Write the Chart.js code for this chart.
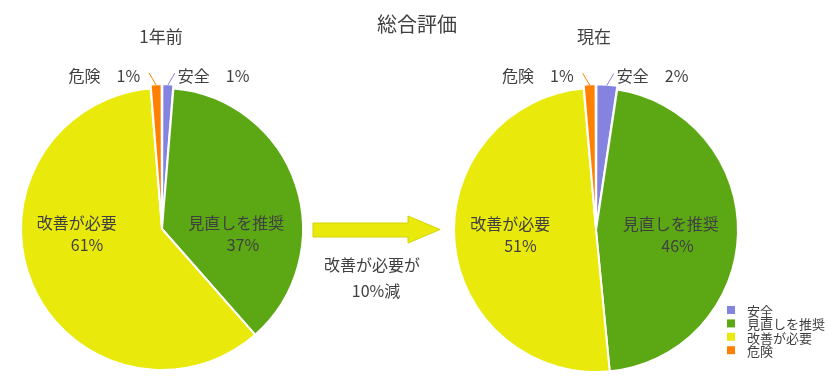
<!DOCTYPE html>
<html><head><meta charset="utf-8">
<script src="https://cdn.jsdelivr.net/npm/chart.js@4"></script>
<style>
html,body{margin:0;padding:0;background:#fff;}
#wrap{position:relative;width:840px;height:384px;overflow:hidden;font-family:"Noto Sans CJK JP",sans-serif;color:#404040;}
.t{position:absolute;white-space:nowrap;transform:translate(-50%,-50%);line-height:1;}
canvas{position:absolute;top:0;}
svg{position:absolute;left:0;top:0;}
</style></head>
<body><div id="wrap">
<canvas id="c1" width="324" height="384" style="left:0;width:324px;height:384px"></canvas>
<canvas id="c2" width="420" height="384" style="left:420px;width:420px;height:384px"></canvas>
<svg width="840" height="384"><polygon points="313,223 408,223 408,216 440,229.5 408,243 408,237 313,237" fill="#E9E90B" stroke="#D4D400" stroke-width="1"/></svg>
<div class="t" style="left:417px;top:24px;font-size:20px">総合評価</div>
<div class="t" style="left:161px;top:35px;font-size:17px">1年前</div>
<div class="t" style="left:594px;top:35px;font-size:17px">現在</div>
<div class="t" style="left:372px;top:264px;font-size:16px">改善が必要が</div>
<div class="t" style="left:376px;top:290px;font-size:16px">10%減</div>
</div>
<script>
const categories = ['安全', '見直しを推奨', '改善が必要', '危険'];
const beforeValues = [1.3, 37.4, 60.5, 1.3];
const nowValues = [2.4, 46.4, 50.5, 1.4];

const sliceColors = ['#8484E0', '#5CA814', '#E9E90B', '#FF8000'];
const sliceOffsets = [8, 0, 0, 8];
const FONT = '"Noto Sans CJK JP", sans-serif';
const TEXT = '#404040';

const labelPlugin = {
  id: 'sliceLabels',
  afterDatasetsDraw(chart) {
    const ctx = chart.ctx;
    const ds = chart.data.datasets[0];
    const meta = chart.getDatasetMeta(0);
    ctx.save();
    ctx.font = '16px ' + FONT;
    ctx.fillStyle = TEXT;
    ctx.textBaseline = 'middle';
    meta.data.forEach((arc, i) => {
      const p = arc.getProps(['x', 'y', 'startAngle', 'endAngle', 'outerRadius'], true);
      const mid = (p.startAngle + p.endAngle) / 2;
      const v = ds.data[i];
      const pct = Math.round(v) + '%';
      const name = chart.data.labels[i];
      const s = Math.cos(mid) >= 0 ? 1 : -1;
      if (v < 5) {
        const r = p.outerRadius + (ds.offset[i] || 0) / 2 - 1;
        const x0 = p.x + Math.cos(mid) * r, y0 = p.y + Math.sin(mid) * r;
        const x1 = x0 + s * 7, y1 = y0 - 12;
        ctx.strokeStyle = ds.backgroundColor[i];
        ctx.lineWidth = 1;
        ctx.beginPath(); ctx.moveTo(x0, y0); ctx.lineTo(x1, y1); ctx.stroke();
        const txt = name + '\u3000' + pct;
        if (s > 0) { ctx.textAlign = 'left'; ctx.fillText(txt, x1 + 3, y1 + 3); }
        else { ctx.textAlign = 'right'; ctx.fillText(txt, x1 - 9, y1 + 3); }
      } else {
        const r = p.outerRadius;
        ctx.textAlign = 'center';
        ctx.fillText(name, p.x + s * 0.565 * r - 5.5, p.y - 6);
        ctx.fillText(pct, p.x + s * 0.553 * r + 3, p.y + 16);
      }
    });
    ctx.restore();
  }
};

const legendPlugin = {
  id: 'sideLegend',
  afterDraw(chart, args, opts) {
    if (!opts.show) return;
    const ctx = chart.ctx;
    const ds = chart.data.datasets[0];
    ctx.save();
    ctx.font = '13px ' + FONT;
    ctx.textBaseline = 'middle';
    ctx.textAlign = 'left';
    chart.data.labels.forEach((lab, i) => {
      const y = opts.y + i * opts.step;
      ctx.fillStyle = ds.backgroundColor[i];
      ctx.fillRect(opts.x, y - 4, 8, 8);
      ctx.fillStyle = TEXT;
      ctx.fillText(lab, opts.x + 20, y + 1);
    });
    ctx.restore();
  }
};

function makePie(id, values, radius, padding, legend) {
  return new Chart(document.getElementById(id), {
    type: 'pie',
    data: {
      labels: categories,
      datasets: [{
        data: values,
        backgroundColor: sliceColors,
        borderColor: '#ffffff',
        borderWidth: 2,
        offset: sliceOffsets,
        radius: radius
      }]
    },
    options: {
      responsive: false,
      animation: false,
      radius: radius,
      layout: { padding: padding },
      plugins: {
        legend: { display: false },
        tooltip: { enabled: false },
        sideLegend: legend
      }
    },
    plugins: [labelPlugin, legendPlugin]
  });
}

makePie('c1', beforeValues, 141, { top: 74, bottom: 0, left: 0, right: 0 }, { show: false });
makePie('c2', nowValues, 142, { top: 76, bottom: 0, left: 0, right: 68 }, { show: true, x: 307, y: 310, step: 13.4 });
</script>
</body></html>
